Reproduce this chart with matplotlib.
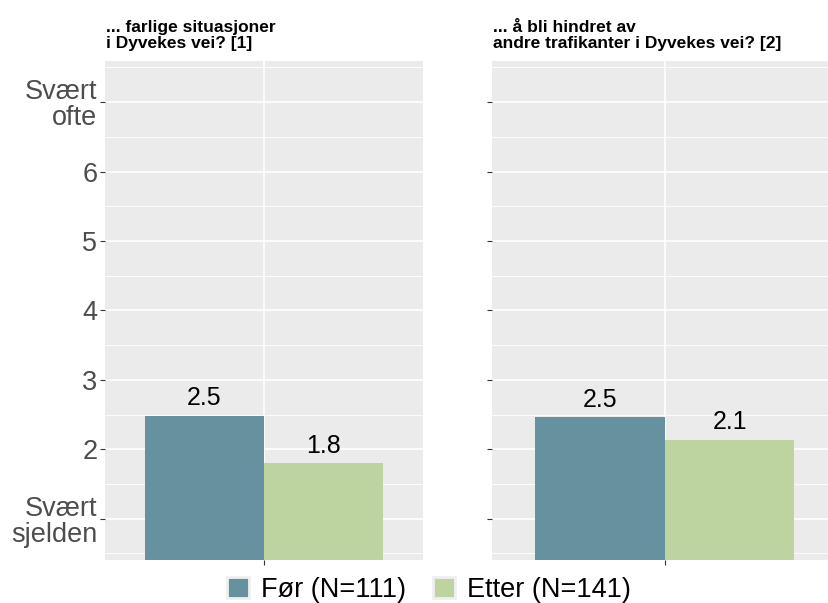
import matplotlib.pyplot as plt
from matplotlib.patches import Patch

plt.rcParams['font.family'] = ['Liberation Sans', 'DejaVu Sans']

# Survey answers, mean score per question (1 = svært sjelden, 7 = svært ofte)
questions = ["... farlige situasjoner\ni Dyvekes vei? [1]",
             "... å bli hindret av\nandre trafikanter i Dyvekes vei? [2]"]
groups = ["Før (N=111)", "Etter (N=141)"]
for_values = [2.48, 2.46]
etter_values = [1.80, 2.14]
ytick_values = [1, 2, 3, 4, 5, 6, 7]
ytick_labels = ["Svært\nsjelden", "2", "3", "4", "5", "6", "Svært\nofte"]

colours = ["#66919E", "#BED4A0"]
W, H = 829, 603
fig = plt.figure(figsize=(W / 100, H / 100), dpi=100)

# panel boxes in pixels: (left, right), plus x-range shown
panels = [((105, 423), (0.4, 1.6)), ((492, 829), (0.4, 1.57))]
top, bottom = 60.5, 560.3

bar_w = 0.45
for i, ((x0, x1), xlim) in enumerate(panels):
    ax = fig.add_axes([x0 / W, (H - bottom) / H, (x1 - x0) / W, (bottom - top) / H])
    ax.set_facecolor("#EBEBEB")
    for s in ax.spines.values():
        s.set_visible(False)
    ax.set_xlim(*xlim)
    ax.set_ylim(0.4, 7.6)

    # grid
    for y in [0.5 + k for k in range(8)]:
        ax.axhline(y, color="white", lw=0.6, zorder=0)
    for y in ytick_values:
        ax.axhline(y, color="white", lw=1.2, zorder=0)
    ax.axvline(1, color="white", lw=1.2, zorder=0)

    vals = [for_values[i], etter_values[i]]
    offsets = [-bar_w / 2, bar_w / 2]
    for v, off, c in zip(vals, offsets, colours):
        ax.bar(1 + off, v, width=bar_w, bottom=0, color=c, zorder=2)
        ax.text(1 + off, v + 0.08, "{:.1f}".format(v), ha="center", va="bottom",
                fontsize=18, color="black", zorder=3)

    ax.set_xticks([1])
    ax.set_xticklabels([""])
    ax.set_yticks(ytick_values)
    if i == 0:
        ax.set_yticklabels(ytick_labels, fontsize=19.5, color="#4D4D4D", linespacing=1.0)
    else:
        ax.set_yticklabels([])
    ax.tick_params(axis="both", length=3.5, width=0.8, color="#333333", pad=2)

    ax.annotate(questions[i], xy=(0, 1), xycoords="axes fraction",
                xytext=(1, 7), textcoords="offset points",
                ha="left", va="bottom", fontsize=12.5, fontweight="bold",
                linespacing=1.05)

handles = [Patch(facecolor=c, edgecolor="#F0F0F0", lw=2) for c in colours]
fig.legend(handles, groups, loc="center", bbox_to_anchor=(429 / W, (H - 590) / H),
           ncol=2, frameon=False, fontsize=19.5, handlelength=0.8, handleheight=0.8,
           handletextpad=0.45, columnspacing=1.0, borderpad=0)

fig.savefig("out.png", dpi=100)
